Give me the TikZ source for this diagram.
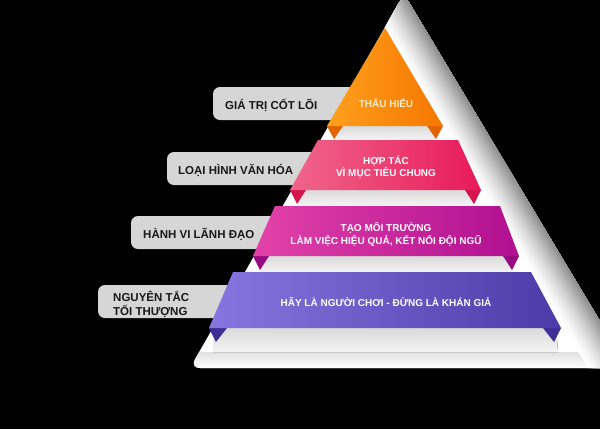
\documentclass[tikz,border=0pt]{standalone}
\usepackage{fontspec}
\setmainfont{Liberation Sans}
\usetikzlibrary{calc}
\definecolor{lblgray}{RGB}{214,214,214}
\definecolor{stepA}{RGB}{218,218,218}
\definecolor{stepB}{RGB}{244,244,244}
\definecolor{orA}{RGB}{255,160,30}
\definecolor{orB}{RGB}{245,118,0}
\definecolor{orTab}{RGB}{226,100,0}
\definecolor{pkA}{RGB}{240,102,138}
\definecolor{pkB}{RGB}{232,26,90}
\definecolor{pkTab}{RGB}{212,20,76}
\definecolor{mgA}{RGB}{226,66,168}
\definecolor{mgB}{RGB}{176,16,144}
\definecolor{mgTab}{RGB}{150,12,128}
\definecolor{puA}{RGB}{136,118,224}
\definecolor{puB}{RGB}{76,58,168}
\definecolor{puTab}{RGB}{62,46,150}
\definecolor{ortext}{RGB}{255,236,200}
\tikzset{
  lblbox/.style={fill=lblgray, rounded corners=7pt},
  lbl/.style={font=\bfseries\fontsize{11.5}{14}\selectfont, text=black!90, inner sep=0pt, anchor=base west},
  btxt/.style={font=\bfseries\fontsize{10}{12}\selectfont, text=white, inner sep=0pt, anchor=base},
  stepface/.style={top color=stepA, bottom color=stepB},
}
\begin{document}
\begin{tikzpicture}[x=1pt,y=-1pt]
\useasboundingbox (0,0) rectangle (600,429);
\fill[black] (0,0) rectangle (600,429);

% label boxes (behind the pyramid)
\fill[lblbox] (213,87) rectangle (370,120);
\fill[lblbox] (167,152) rectangle (340,185);
\fill[lblbox] (131,216) rectangle (310,249);
\fill[lblbox] (98,285) rectangle (280,318);

% pyramid background with soft right shadow
\begin{scope}
  \clip[rounded corners=10pt] (404,-6) -- (628,368) -- (190,368) -- cycle;
  \fill[white] (150,-20) rectangle (700,420);
  \shade[top color=black!12, bottom color=white] (150,352) rectangle (700,368);
  \foreach \d in {40,38,...,0}{
    \pgfmathsetmacro{\c}{46*(1-\d/40)^1.4}
    \fill[black!\c] ($(404,-6)+(-\d,0)$) -- ($(628,368)+(-\d,0)$) -- (700,420) -- (700,-50) -- cycle;
  }
\end{scope}

% steps (3D faces)
\fill[stepface] (334,126) rectangle (436,140);
\fill[stepface] (297,190) rectangle (474,206);
\fill[stepface] (260,256) rectangle (512,272);
\fill[stepface] (215,328) -- (556,328) -- (558,352) -- (213,352) -- cycle;

% tabs
\fill[orTab] (327,126) -- (343,126) -- (334,139) -- cycle;
\fill[orTab] (443,126) -- (427,126) -- (436,139) -- cycle;
\fill[pkTab] (290,190) -- (306,190) -- (297,204) -- cycle;
\fill[pkTab] (481,190) -- (465,190) -- (474,204) -- cycle;
\fill[mgTab] (253,256) -- (269,256) -- (260,270) -- cycle;
\fill[mgTab] (519,256) -- (503,256) -- (512,270) -- cycle;
\fill[puTab] (209,328) -- (227,328) -- (216,342) -- cycle;
\fill[puTab] (561,328) -- (543,328) -- (554,342) -- cycle;

% banners
\shade[left color=orA, right color=orB] (385,28) -- (443,126) -- (327,126) -- cycle;
\shade[left color=pkA, right color=pkB] (318,140) -- (458,140) -- (481,190) -- (290,190) -- cycle;
\shade[left color=mgA, right color=mgB] (275,206) -- (500,206) -- (519,256) -- (253,256) -- cycle;
\shade[left color=puA, right color=puB] (233,272) -- (531,272) -- (561,328) -- (209,328) -- cycle;

% banner texts
\node[btxt, text=ortext] (t1) at (386,107.5) {THẤU HIỂU};
\node[btxt] (t2a) at (386,164) {HỢP TÁC};
\node[btxt] (t2b) at (386,176) {VÌ MỤC TIÊU CHUNG};
\node[btxt] (t3a) at (386,231) {TẠO MÔI TRƯỜNG};
\node[btxt] (t3b) at (386,244) {LÀM VIỆC HIỆU QUẢ, KẾT NỐI ĐỘI NGŨ};
\node[btxt] (t4) at (386,306) {HÃY LÀ NGƯỜI CHƠI - ĐỪNG LÀ KHÁN GIẢ};

% label texts
\node[lbl] (l1) at (225,109) {GIÁ TRỊ CỐT LÕI};
\node[lbl] (l2) at (178,174) {LOẠI HÌNH VĂN HÓA};
\node[lbl] (l3) at (143,238) {HÀNH VI LÃNH ĐẠO};
\node[lbl] (l4a) at (113,301) {NGUYÊN TẮC};
\node[lbl] (l4b) at (113,315) {TỐI THƯỢNG};
\end{tikzpicture}
\end{document}
